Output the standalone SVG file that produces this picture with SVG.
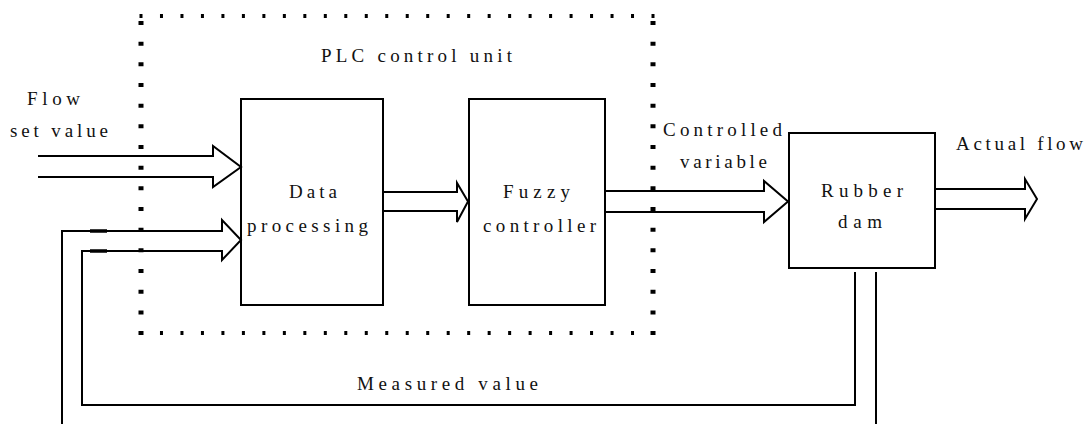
<svg xmlns="http://www.w3.org/2000/svg" width="1086" height="424" viewBox="0 0 1086 424">
<style>
.box{fill:none;stroke:#000;stroke-width:2}
.ln{fill:none;stroke:#000;stroke-width:2;stroke-linejoin:miter}
.dh{fill:none;stroke:#000;stroke-width:4;stroke-dasharray:3 17.48}
.dv{fill:none;stroke:#000;stroke-width:5;stroke-dasharray:4 16.67}
.t{font-family:'Liberation Serif','Times New Roman',serif;font-size:19px;fill:#111}
</style>
<rect width="1086" height="424" fill="#fff"/>
<g id="plc-unit">
<line class="dh" x1="139.5" y1="16" x2="660" y2="16"/>
<line class="dh" x1="139.5" y1="333" x2="660" y2="333"/>
<line class="dv" x1="141" y1="21" x2="141" y2="340"/>
<line class="dv" x1="653" y1="21" x2="653" y2="340"/>
<text class="t" font-family="Liberation Serif, serif" x="321" y="62" textLength="191" lengthAdjust="spacing">PLC control unit</text>
</g>
<g id="data-processing">
<rect class="box" x="241" y="99" width="142" height="206"/>
<text class="t" font-family="Liberation Serif, serif" x="289" y="198" textLength="48" lengthAdjust="spacing">Data</text>
<text class="t" font-family="Liberation Serif, serif" x="247" y="232" textLength="121" lengthAdjust="spacing">processing</text>
</g>
<g id="fuzzy-controller">
<rect class="box" x="469" y="99" width="136" height="206"/>
<text class="t" font-family="Liberation Serif, serif" x="503" y="198" textLength="67" lengthAdjust="spacing">Fuzzy</text>
<text class="t" font-family="Liberation Serif, serif" x="483" y="232" textLength="113" lengthAdjust="spacing">controller</text>
</g>
<g id="rubber-dam">
<rect class="box" x="789" y="133" width="146" height="135"/>
<text class="t" font-family="Liberation Serif, serif" x="821" y="197" textLength="82" lengthAdjust="spacing">Rubber</text>
<text class="t" font-family="Liberation Serif, serif" x="838" y="228" textLength="44" lengthAdjust="spacing">dam</text>
</g>
<g id="labels">
<text class="t" font-family="Liberation Serif, serif" x="27" y="105" textLength="53" lengthAdjust="spacing">Flow</text>
<text class="t" font-family="Liberation Serif, serif" x="10" y="137" textLength="98" lengthAdjust="spacing">set value</text>
<text class="t" font-family="Liberation Serif, serif" x="663" y="136" textLength="119" lengthAdjust="spacing">Controlled</text>
<text class="t" font-family="Liberation Serif, serif" x="680" y="168" textLength="87" lengthAdjust="spacing">variable</text>
<text class="t" font-family="Liberation Serif, serif" x="956" y="150" textLength="127" lengthAdjust="spacing">Actual flow</text>
<text class="t" font-family="Liberation Serif, serif" x="357" y="390" textLength="181" lengthAdjust="spacing">Measured value</text>
</g>
<g id="connectors">
<path class="ln" d="M38,156 H213 V146 L241,167 L213,187 V177 H38"/>
<path class="ln" d="M383,192 H457 V183 L468,201.5 L457,222 V211 H383"/>
<path class="ln" d="M605,191 H764 V181 L788,201.5 L764,222 V212 H605"/>
<path class="ln" d="M935,189 H1025 V179 L1037,199 L1025,219 V209 H935"/>
<path class="ln" d="M62,424 V231 H222 V220 L241,240 L222,260 V251 H82 V405 H855 V272"/>
<path class="ln" d="M876,272 V424"/>
<path fill="none" stroke="#000" stroke-width="3.5" d="M90,231 H107 M90,251 H107"/>
</g>
</svg>
